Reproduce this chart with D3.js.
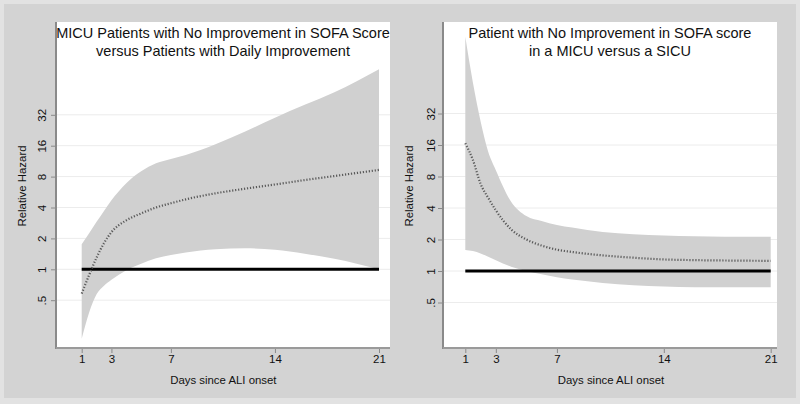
<!DOCTYPE html>
<html><head><meta charset="utf-8">
<script src="https://cdn.jsdelivr.net/npm/d3@7"></script>
<style>
body{margin:0;background:#e2e2e2}
svg{display:block}
text{font-family:"Liberation Sans",Arial,Helvetica,sans-serif;fill:#111}
</style></head>
<body><svg id="chart" width="800" height="404"></svg>
<script>
// ---------- data ----------
const xTicks = [1, 3, 7, 14, 21];
const yTicks = [0.5, 1, 2, 4, 8, 16, 32];
const yTickLabels = [".5", "1", "2", "4", "8", "16", "32"];
const xTitle = "Days since ALI onset";
const yTitle = "Relative Hazard";

const leftTitle = ["MICU Patients with No Improvement in SOFA Score", "versus Patients with Daily Improvement"];
const leftDays     = [1,    1.5,  2,    2.5,  3,    4,    5,    6,    7,    8,    10,   12,   14,   16,   18,   21];
const leftEstimate = [0.58, 0.88, 1.3,  1.8,  2.3,  3.0,  3.5,  4.0,  4.4,  4.8,  5.5,  6.1,  6.7,  7.4,  8.1,  9.3];
const leftUpper    = [1.75, 2.25, 2.9,  3.7,  4.7,  6.9,  9.0,  10.8, 11.9, 13.0, 16.5, 22,   30,   40,   53,   89];
const leftLower    = [0.21, 0.38, 0.57, 0.69, 0.79, 0.98, 1.13, 1.28, 1.38, 1.46, 1.57, 1.6,  1.55, 1.42, 1.27, 1.0];

const rightTitle = ["Patient with No Improvement in SOFA score", "in a MICU versus a SICU"];
const rightDays     = [1,    1.5,  2,    2.5,  3,    4,    5,    6,    7,    8,    10,   12,   14,   16,   18,   21];
const rightEstimate = [16.6, 11.5, 6.8,  5.0,  3.8,  2.5,  2.0,  1.75, 1.6,  1.52, 1.41, 1.34, 1.29, 1.27, 1.26, 1.25];
const rightUpper    = [173,  63,   27,   13.8, 9.2,  4.6,  3.35, 3.0,  2.75, 2.6,  2.36, 2.25, 2.18, 2.15, 2.13, 2.12];
const rightLower    = [1.59, 1.55, 1.47, 1.37, 1.27, 1.1,  1.0,  0.93, 0.87, 0.83, 0.77, 0.73, 0.71, 0.70, 0.70, 0.70];

const referenceValue = 1;

// ---------- layout ----------
const svg = d3.select("#chart");
svg.append("rect").attr("x", 4).attr("y", 4).attr("width", 792).attr("height", 394).attr("fill", "#d3d3d3");

const panels = [
  {title: leftTitle, days: leftDays, est: leftEstimate, up: leftUpper, lo: leftLower,
   box: {x0: 56, x1: 390, y0: 22, y1: 348}, xr: [81.7, 379], yr: [269.3, 114.8],
   tickLabelX: 46, yTitleX: 26, titleX: 223},
  {title: rightTitle, days: rightDays, est: rightEstimate, up: rightUpper, lo: rightLower,
   box: {x0: 443, x1: 777, y0: 22, y1: 348}, xr: [465.3, 770.7], yr: [271, 113.5],
   tickLabelX: 434.5, yTitleX: 412.5, titleX: 610}
];

const font = '"Liberation Sans",Arial,sans-serif';

panels.forEach((p, i) => {
  const b = p.box;
  const g = svg.append("g");
  const x = d3.scaleLinear().domain([1, 21]).range(p.xr);
  const y = d3.scaleLog().base(2).domain([1, 32]).range(p.yr);

  g.append("rect").attr("x", b.x0).attr("y", b.y0).attr("width", b.x1 - b.x0).attr("height", b.y1 - b.y0).attr("fill", "#fff");

  const clipId = "clip" + i;
  svg.append("clipPath").attr("id", clipId).append("rect")
    .attr("x", b.x0).attr("y", b.y0).attr("width", b.x1 - b.x0).attr("height", b.y1 - b.y0);

  // gridlines
  g.selectAll(".grid").data(yTicks).join("line")
    .attr("x1", b.x0).attr("x2", b.x1)
    .attr("y1", d => y(d)).attr("y2", d => y(d))
    .attr("stroke", "#ececec").attr("stroke-width", 1);

  const pts = p.days.map((d, k) => ({d, e: p.est[k], u: p.up[k], l: p.lo[k]}));
  const inner = g.append("g").attr("clip-path", `url(#${clipId})`);

  inner.append("path").datum(pts)
    .attr("d", d3.area().x(o => x(o.d)).y0(o => y(o.l)).y1(o => y(o.u)).curve(d3.curveMonotoneX))
    .attr("fill", "#d0d0d0");

  inner.append("line")
    .attr("x1", x(1)).attr("x2", x(21))
    .attr("y1", y(referenceValue)).attr("y2", y(referenceValue))
    .attr("stroke", "#000").attr("stroke-width", 3);

  inner.append("path").datum(pts)
    .attr("d", d3.line().x(o => x(o.d)).y(o => y(o.e)).curve(d3.curveMonotoneX))
    .attr("fill", "none").attr("stroke", "#5a5a5a").attr("stroke-width", 2.2)
    .attr("stroke-dasharray", "1.2,1.8");

  // axes lines
  g.append("line").attr("x1", b.x0).attr("x2", b.x0).attr("y1", b.y0).attr("y2", b.y1 + 1)
    .attr("stroke", "#8a8a8a").attr("stroke-width", 2);
  g.append("line").attr("x1", b.x0).attr("x2", b.x1).attr("y1", b.y1).attr("y2", b.y1)
    .attr("stroke", "#9a9a9a").attr("stroke-width", 2);

  // x axis
  const xa = g.append("g").attr("transform", `translate(0,${b.y1 + 1})`)
    .call(d3.axisBottom(x).tickValues(xTicks).tickSize(4).tickPadding(2).tickFormat(d3.format("d")));
  xa.select(".domain").remove();
  xa.selectAll(".tick line").attr("stroke", "#8a8a8a");
  xa.selectAll(".tick text").attr("font-size", 11.5).attr("fill", "#111").style("font-family", font);

  // y axis
  const ya = g.append("g").attr("transform", `translate(${b.x0 - 1},0)`)
    .call(d3.axisLeft(y).tickValues(yTicks).tickSize(4).tickFormat((d, k) => yTickLabels[k]));
  ya.select(".domain").remove();
  ya.selectAll(".tick line").attr("stroke", "#8a8a8a");
  ya.selectAll(".tick text")
    .attr("x", null).attr("dy", null)
    .attr("text-anchor", "middle")
    .attr("transform", `translate(${p.tickLabelX - (b.x0 - 1)},0) rotate(-90)`)
    .attr("font-size", 11.5).attr("fill", "#111").style("font-family", font);

  // titles
  g.append("text").attr("x", (p.xr[0] + p.xr[1]) / 2 - 7).attr("y", 384)
    .attr("text-anchor", "middle").attr("font-size", 11.4).text(xTitle);
  g.append("text").attr("transform", `translate(${p.yTitleX},186) rotate(-90)`)
    .attr("text-anchor", "middle").attr("font-size", 11.4).text(yTitle);
  p.title.forEach((t, k) => {
    g.append("text").attr("x", p.titleX).attr("y", 38 + k * 17.5)
      .attr("text-anchor", "middle").attr("font-size", 14.5).text(t);
  });
});
</script></body></html>
